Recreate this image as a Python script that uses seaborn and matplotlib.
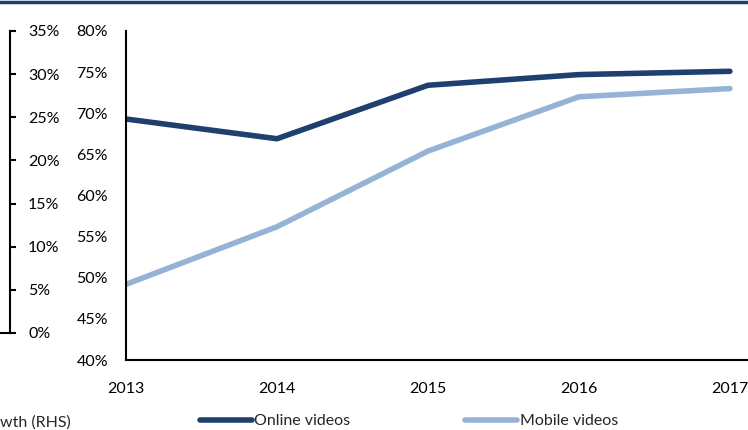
import pandas as pd
import matplotlib.pyplot as plt
import seaborn as sns
from matplotlib.lines import Line2D
from matplotlib.ticker import PercentFormatter

years = [2013, 2014, 2015, 2016, 2017]
online_videos = [69.3, 66.9, 73.4, 74.7, 75.1]
mobile_videos = [49.2, 56.2, 65.4, 72.0, 73.0]
series_names = ["Online videos", "Mobile videos"]
series_colors = ["#1F3F6E", "#95B3D7"]
left_ticks = [0, 5, 10, 15, 20, 25, 30, 35]
main_ticks = [40, 45, 50, 55, 60, 65, 70, 75, 80]

df = pd.DataFrame({
    "year": years * 2,
    "share": online_videos + mobile_videos,
    "series": [series_names[0]] * 5 + [series_names[1]] * 5,
})

sns.set_theme(style="white")
plt.rcParams["font.family"] = ["Lato", "DejaVu Sans"]
fs = 11.5

W, H = 748, 430
fig = plt.figure(figsize=(W / 100, H / 100), dpi=100)

# main chart
ax = fig.add_axes([126 / W, (H - 360) / H, (W - 126) / W, (360 - 31) / H])
sns.lineplot(data=df, x="year", y="share", hue="series", palette=series_colors,
             linewidth=4, ax=ax, legend=False)
ax.set_xlim(2013, 2017.12)
ax.set_ylim(40, 80)
ax.set_xticks(years)
ax.set_yticks(main_ticks)
ax.yaxis.set_major_formatter(PercentFormatter(decimals=0))
ax.set_xlabel("")
ax.set_ylabel("")
for s in ["top", "right"]:
    ax.spines[s].set_visible(False)
for s in ["left", "bottom"]:
    ax.spines[s].set_color("black")
    ax.spines[s].set_linewidth(1.5)
ax.tick_params(axis="both", which="major", direction="out", length=5, width=1.5,
               color="black", labelsize=fs, labelcolor="black")
ax.tick_params(axis="y", pad=8)
ax.tick_params(axis="x", pad=11)

# cropped left-hand axis (RHS of neighbouring chart)
ax2 = fig.add_axes([0, (H - 333) / H, 10 / W, (333 - 31) / H])
ax2.set_ylim(0, 35)
ax2.set_yticks(left_ticks)
ax2.yaxis.tick_right()
ax2.yaxis.set_major_formatter(PercentFormatter(decimals=0))
ax2.set_xticks([])
for s in ["top", "left"]:
    ax2.spines[s].set_visible(False)
for s in ["right", "bottom"]:
    ax2.spines[s].set_color("black")
    ax2.spines[s].set_linewidth(1.5)
ax2.tick_params(axis="y", direction="out", length=4, width=1.5, color="black",
                labelsize=fs, labelcolor="black", pad=9)
ax2.patch.set_alpha(0)

# top border line
fig.add_artist(Line2D([0, 1], [1 - 1.5 / H, 1 - 1.5 / H], transform=fig.transFigure,
                      color="#1F3F6E", linewidth=2.5))

# legend
handles = [Line2D([], [], color=c, linewidth=4, solid_capstyle="round") for c in series_colors]
fig.legend(handles, series_names, loc="center left", ncol=2,
           bbox_to_anchor=(200 / W, (H - 421) / H), frameon=False,
           handlelength=3.25, handletextpad=0.15, columnspacing=7.2, fontsize=fs,
           borderaxespad=0, borderpad=0)
fig.text(0, (H - 423) / H, "wth (RHS)", fontsize=fs, va="center", ha="left")

fig.savefig("out.png", dpi=100)
